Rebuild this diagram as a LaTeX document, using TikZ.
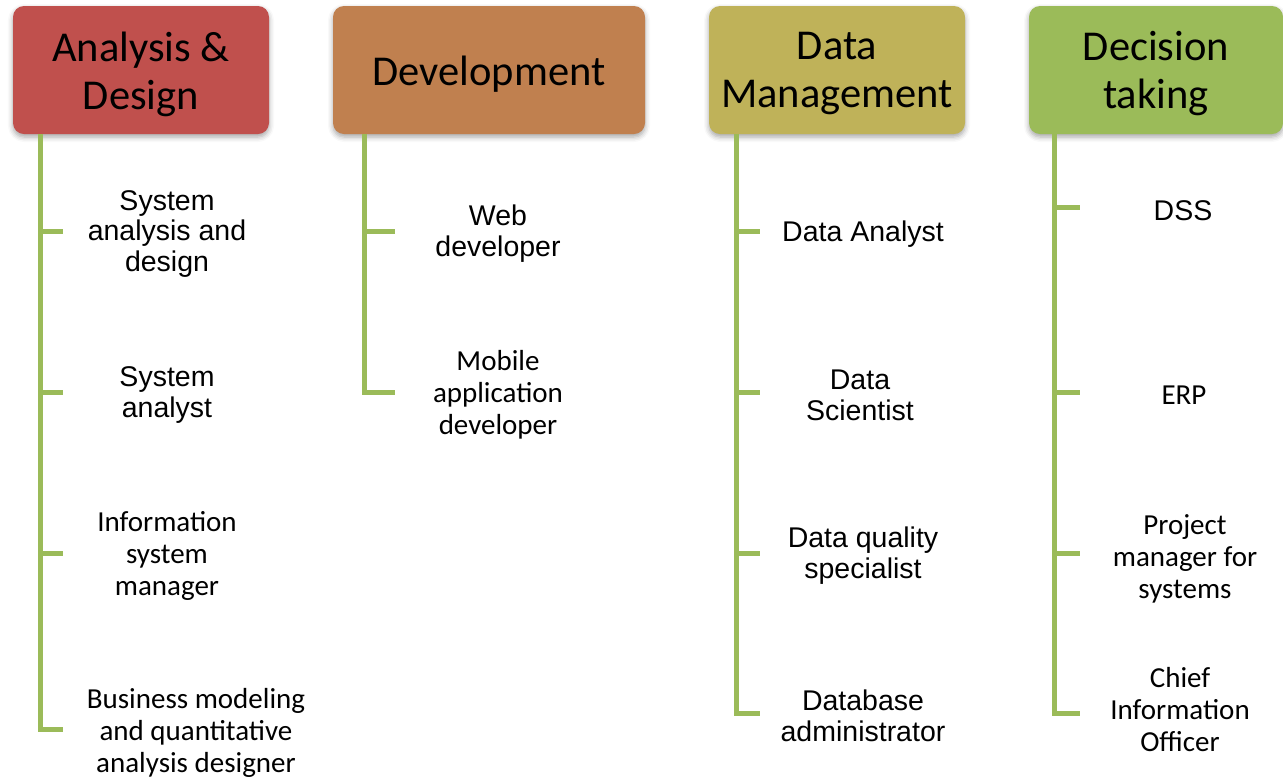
\documentclass[tikz,border=0pt]{standalone}
\usepackage{fontspec}
\usetikzlibrary{shadows.blur}
\newfontfamily\arialf{Liberation Sans}
\newfontfamily\calf{Carlito}
\definecolor{hred}{HTML}{C0504D}
\definecolor{horange}{HTML}{C0804F}
\definecolor{hyellow}{HTML}{BFB259}
\definecolor{hgreen}{HTML}{9BBB59}
\tikzset{
  header/.style={rounded corners=11pt, minimum height=128pt, inner sep=0pt,
    blur shadow={shadow xshift=0pt, shadow yshift=-3pt, shadow blur radius=5pt, shadow opacity=35}},
  htext/.style={align=center, inner sep=0pt, font=\calf\fontsize{42.5}{48}\selectfont, text=black},
  ar/.style={align=center, inner sep=0pt, yshift=-3pt, font=\arialf\fontsize{28.5}{31}\selectfont},
  ca/.style={align=center, inner sep=0pt, yshift=-3pt, font=\calf\fontsize{29}{32}\selectfont},
  branch/.style={draw=hgreen, line width=5pt}
}
\begin{document}
\begin{tikzpicture}[x=1pt,y=-1pt]
\useasboundingbox (0,0) rectangle (1283,780);
% headers
\node[header, fill=hred, minimum width=256pt] (h1) at (141,70) {};
\node[header, fill=horange, minimum width=312pt] (h2) at (489,70) {};
\node[header, fill=hyellow, minimum width=256pt] (h3) at (837,70) {};
\node[header, fill=hgreen, minimum width=254pt] (h4) at (1156,70) {};
\node[htext] (h1t) at (141,74) {Analysis \&\\Design};
\node[htext] (h2t) at (489,74) {Development};
\node[htext] (h3t) at (837,74) {Data\\Management};
\node[htext] (h4t) at (1156,74) {Decision\\taking};
% children
\node[ar] (c11) at (167,231) {System\\analysis and\\design};
\node[ar] (c12) at (167,392) {System\\analyst};
\node[ca] (c13) at (167,553) {Information\\system\\manager};
\node[ca] (c14) at (196,730) {Business modeling\\and quantitative\\analysis designer};
\node[ar] (c21) at (498,231) {Web\\developer};
\node[ca] (c22) at (498,392) {Mobile\\application\\developer};
\node[ar] (c31) at (863,231) {Data Analyst};
\node[ar] (c32) at (860,392) {Data\\Scientist};
\node[ar] (c33) at (863,553) {Data quality\\specialist};
\node[ar] (c34) at (863,713) {Database\\administrator};
\node[ar] (c41) at (1183,208) {DSS};
\node[ca] (c42) at (1184,392) {ERP};
\node[ca] (c43) at (1185,556) {Project\\manager for\\systems};
\node[ca] (c44) at (1180,707) {Chief\\Information\\Officer};
% spine tops and tick ends
\coordinate (s1) at (40,134);
\coordinate (t11) at (63,231);
\coordinate (t12) at (63,392);
\coordinate (t13) at (63,553);
\coordinate (t14) at (63,729);
\coordinate (s2) at (364,134);
\coordinate (t21) at (395,231);
\coordinate (t22) at (395,392);
\coordinate (s3) at (736,134);
\coordinate (t31) at (760,231);
\coordinate (t32) at (760,392);
\coordinate (t33) at (760,553);
\coordinate (t34) at (760,713);
\coordinate (s4) at (1054,134);
\coordinate (t41) at (1080,207);
\coordinate (t42) at (1080,392);
\coordinate (t43) at (1080,553);
\coordinate (t44) at (1080,713);
% connectors
\draw[branch] (s1) |- (t14);
\draw[branch] (s1 |- t11) -- (t11);
\draw[branch] (s1 |- t12) -- (t12);
\draw[branch] (s1 |- t13) -- (t13);
\draw[branch] (s2) |- (t22);
\draw[branch] (s2 |- t21) -- (t21);
\draw[branch] (s3) |- (t34);
\draw[branch] (s3 |- t31) -- (t31);
\draw[branch] (s3 |- t32) -- (t32);
\draw[branch] (s3 |- t33) -- (t33);
\draw[branch] (s4) |- (t44);
\draw[branch] (s4 |- t41) -- (t41);
\draw[branch] (s4 |- t42) -- (t42);
\draw[branch] (s4 |- t43) -- (t43);
\end{tikzpicture}
\end{document}
